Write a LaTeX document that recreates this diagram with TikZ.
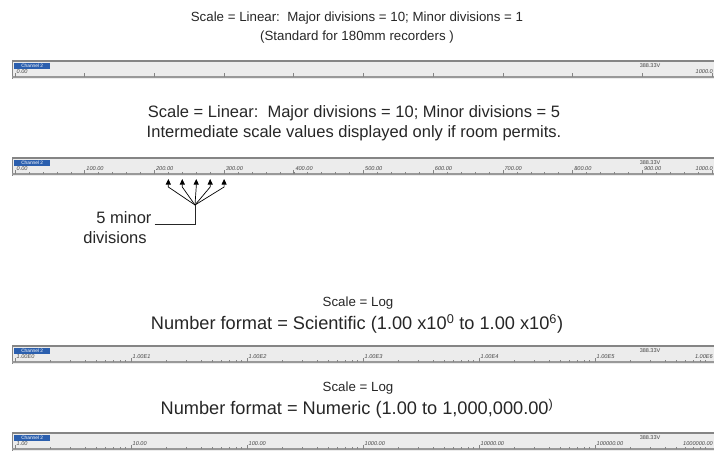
\documentclass[tikz,border=0pt]{standalone}
\usepackage{fontspec}
\setmainfont{Liberation Sans}
\usetikzlibrary{arrows.meta,positioning}
\definecolor{headtext}{HTML}{262626}
\definecolor{barfill}{HTML}{ECECEC}
\definecolor{barline}{HTML}{858585}
\definecolor{axisgray}{HTML}{999999}
\definecolor{chanblue}{HTML}{2B5FAE}
\definecolor{scaletext}{HTML}{444444}
\tikzset{
  head/.style={font=\fontsize{13.3}{15}\selectfont,text=headtext,inner sep=0pt},
  headbig/.style={font=\fontsize{16.5}{18}\selectfont,text=headtext,inner sep=0pt},
  headfmt/.style={font=\fontsize{18.2}{20}\selectfont,text=headtext,inner sep=0pt},
  lbl/.style={font=\fontsize{16.5}{18}\selectfont,text=headtext,inner sep=0pt},
  chan/.style={fill=chanblue,text=white,font=\fontsize{4.8}{5}\selectfont,inner sep=0pt,minimum width=36pt,minimum height=6.5pt,anchor=north west},
  volt/.style={font=\fontsize{5.5}{6}\selectfont,text=scaletext,inner sep=0pt},
  scalelbl/.style={font=\itshape\fontsize{5.6}{6}\selectfont,text=scaletext,inner sep=0pt,anchor=south west},
  axisline/.style={draw=axisgray,line width=1.8pt},
  tickmaj/.style={draw=barline,line width=0.7pt},
  tickmin/.style={draw=barline,line width=0.5pt},
  leader/.style={draw=headtext,line width=0.7pt},
  tip/.style={-{Triangle[length=5.5pt,width=5pt]},draw=black,line width=0.7pt}
}
\begin{document}
\begin{tikzpicture}[x=1pt,y=-1pt]
\path[use as bounding box] (0,0) rectangle (714,468);
% headings
\node[head] (h1a) at (357,18) {Scale = Linear:\ \ Major divisions = 10; Minor divisions = 1};
\node[head] (h1b) at (357,37) {(Standard for 180mm recorders )};
\node[headbig] (h2a) at (354,113) {Scale = Linear:\ \ Major divisions = 10; Minor divisions = 5};
\node[headbig] (h2b) at (354,133) {Intermediate scale values displayed only if room permits.};
\node[head] (h3a) at (358,303) {Scale = Log};
\node[headfmt] (h3b) at (357,324) {Number format = Scientific (1.00 x10\textsuperscript{0} to 1.00 x10\textsuperscript{6})};
\node[head] (h4a) at (358,388) {Scale = Log};
\node[headfmt] (h4b) at (357,409) {Number format = Numeric (1.00 to 1,000,000.00\textsuperscript{)}};

% chart bars
\foreach \by/\bn in {60/a,157/b,345/c,432/d}{
\fill[barfill] (12,\by) rectangle (716,\by+19);
\draw[barline,line width=2.4pt] (12,\by+1.2) -- (716,\by+1.2);
\draw[barline,line width=1pt] (12.5,\by) -- (12.5,\by+19);
\draw[axisline] (12,\by+17) -- (716,\by+17);
\node[chan] (chan\bn) at (14,\by+2.5) {Channel 2};
\node[volt] (volt\bn) at (650,\by+6) {388.33V};
}

% A: linear, minor = 1
\foreach \i in {0,...,10} \draw[tickmaj] (15+69.7*\i,77) -- ++(0,-4);
\node[scalelbl] (a0) at (16.5,74) {0.00};
\node[scalelbl,anchor=south east] (a10) at (713,74) {1000.0};

% B: linear, minor = 5
\foreach \j in {1,...,49} \draw[tickmin] (15+13.94*\j,174) -- ++(0,-2);
\foreach \i/\v in {0/0.00,1/100.00,2/200.00,3/300.00,4/400.00,5/500.00,6/600.00,7/700.00,8/800.00,9/900.00}{
\draw[tickmaj] (15+69.7*\i,174) -- ++(0,-4);
\node[scalelbl] (b\i) at (16.5+69.7*\i,171) {\v};
}
\draw[tickmaj] (712,174) -- ++(0,-4);
\node[scalelbl,anchor=south east] (b10) at (713,171) {1000.0};

% callout for the minor divisions
\coordinate (join) at (195,205);
\foreach \k in {1,...,5}{
\coordinate (tip\k) at (154.4+13.94*\k,179);
\draw[tip] (join) -- ([yshift=-8pt]tip\k) -- (tip\k);
}
\node[lbl] (minor5) at (124,218) {5 minor};
\node[lbl] (minordiv) at (115,238) {divisions};
\draw[leader] ([xshift=3pt]minor5.base east) -| (join);

% C: log, scientific
\foreach \d/\v in {0/1.00E0,1/1.00E1,2/1.00E2,3/1.00E3,4/1.00E4,5/1.00E5}{
\draw[tickmaj] (15+116*\d,362) -- ++(0,-4);
\foreach \m in {2,...,9} \draw[tickmin] ({15+116*\d+116*log10(\m)},362) -- ++(0,-2);
\node[scalelbl] (c\d) at (16.5+116*\d,359) {\v};
}
\node[scalelbl,anchor=south east] (c6) at (713,359) {1.00E6};

% D: log, numeric
\foreach \d/\v in {0/1.00,1/10.00,2/100.00,3/1000.00,4/10000.00,5/100000.00}{
\draw[tickmaj] (15+116*\d,449) -- ++(0,-4);
\foreach \m in {2,...,9} \draw[tickmin] ({15+116*\d+116*log10(\m)},449) -- ++(0,-2);
\node[scalelbl] (d\d) at (16.5+116*\d,446) {\v};
}
\node[scalelbl,anchor=south east] (d6) at (713,446) {1000000.00};
\end{tikzpicture}
\end{document}
